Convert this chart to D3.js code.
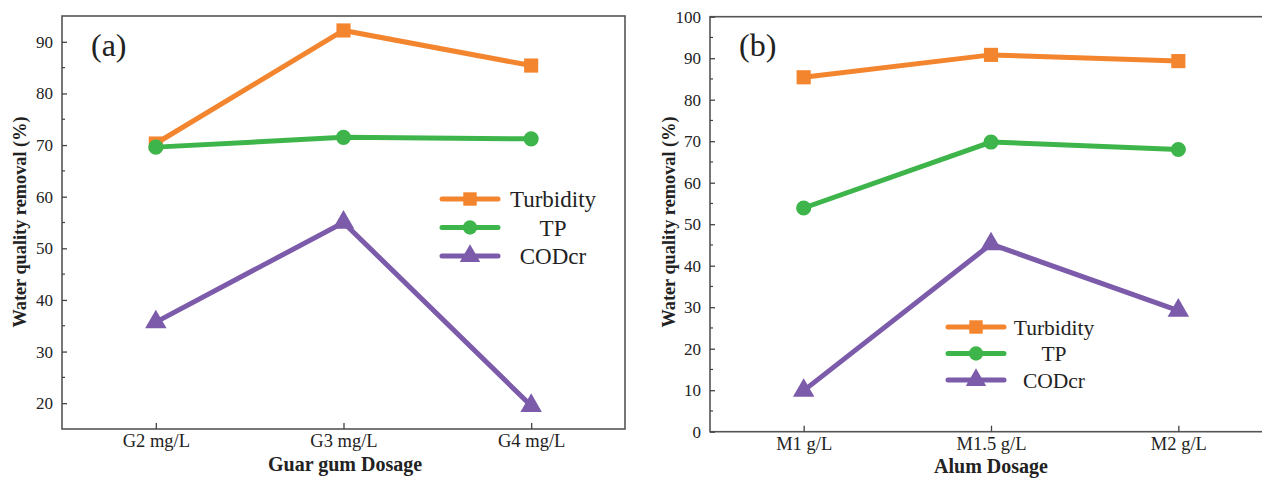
<!DOCTYPE html>
<html><head><meta charset="utf-8">
<script src="https://cdn.jsdelivr.net/npm/d3@7"></script>
<style>body{margin:0;background:#fff}svg{display:block}text{font-family:"Liberation Serif","Times New Roman",serif;fill:#222}</style>
</head><body><svg id="c" width="1262" height="484"></svg>
<script>
const seriesNames = ["Turbidity", "TP", "CODcr"];
const seriesColors = ["#F4852F", "#3DB54B", "#7B5BAA"];
const catsA = ["G2 mg/L", "G3 mg/L", "G4 mg/L"];
const turbA = [70.3, 92.2, 85.4];
const tpA = [69.6, 71.5, 71.2];
const codA = [35.7, 55.0, 19.5];
const catsB = ["M1 g/L", "M1.5 g/L", "M2 g/L"];
const turbB = [85.4, 90.8, 89.3];
const tpB = [53.9, 69.8, 68.0];
const codB = [9.9, 45.2, 29.2];
const ticksA = [20, 30, 40, 50, 60, 70, 80, 90];
const ticksB = [0, 10, 20, 30, 40, 50, 60, 70, 80, 90, 100];

const svg = d3.select("#c");

function panel(o) {
  const g = svg.append("g");
  const x = d3.scalePoint().domain(o.cats).range([o.x0, o.x1]).padding(0.5);
  const y = d3.scaleLinear().domain(o.domain).range([o.y1, o.y0]);
  g.append("rect").attr("x", o.x0).attr("y", o.y0).attr("width", o.x1 - o.x0).attr("height", o.y1 - o.y0)
    .attr("fill", "none").attr("stroke", "#555").attr("stroke-width", 1.6);
  const ya = g.append("g").attr("transform", `translate(${o.x0},0)`)
    .call(d3.axisLeft(y).tickValues(o.ticks).tickSize(-5).tickPadding(9).tickFormat(d3.format("d")));
  ya.select(".domain").remove();
  ya.attr("font-family", null);
  ya.selectAll("line").attr("stroke", "#444").attr("stroke-width", 1.3);
  ya.selectAll("text").style("font-size", "17px").attr("fill", "#333");
  const minor = d3.range(o.domain[0], o.domain[1] + 0.01, 5).filter(v => o.ticks.indexOf(v) < 0 && v > o.domain[0] && v < o.domain[1]);
  g.selectAll(".mn").data(minor).join("line").attr("x1", o.x0).attr("x2", o.x0 + 3)
    .attr("y1", d => y(d)).attr("y2", d => y(d)).attr("stroke", "#444").attr("stroke-width", 1.2);
  const xa = g.append("g").attr("transform", `translate(0,${o.y1})`)
    .call(d3.axisBottom(x).tickSize(-6).tickPadding(5));
  xa.select(".domain").remove();
  xa.attr("font-family", null);
  xa.selectAll("line").attr("stroke", "#444").attr("stroke-width", 1.3);
  xa.selectAll("text").style("font-size", "18.5px").attr("fill", "#333");
  g.append("text").attr("transform", `translate(${o.ytx},${o.yty}) rotate(-90)`).attr("text-anchor", "middle")
    .attr("dy", "0.35em").style("font-size", "18.3px").style("font-weight", "bold").text("Water quality removal (%)");
  g.append("text").attr("x", o.xtx).attr("y", o.xty).attr("text-anchor", "middle")
    .style("font-size", "20px").style("font-weight", "bold").text(o.xtitle);
  g.append("text").attr("x", o.lx).attr("y", o.ly).style("font-size", "32px").text(o.label);
  const data = [o.turb, o.tp, o.cod];
  const line = d3.line().x((d, i) => x(o.cats[i])).y(d => y(d));
  data.forEach((vals, s) => {
    g.append("path").datum(vals).attr("d", line).attr("fill", "none").attr("stroke", seriesColors[s])
      .attr("stroke-width", 5).attr("stroke-linejoin", "miter");
  });
  const shapes = [d3.symbolSquare, d3.symbolCircle, d3.symbolTriangle];
  const sizes = [200, 180, 200];
  data.forEach((vals, s) => {
    g.selectAll(null).data(vals).join("path")
      .attr("transform", (d, i) => `translate(${x(o.cats[i])},${y(d)})`)
      .attr("d", d3.symbol().type(shapes[s]).size(sizes[s])).attr("fill", seriesColors[s]);
  });
  seriesNames.forEach((n, s) => {
    const yy = o.legY + s * o.legDy;
    g.append("line").attr("x1", o.legX).attr("x2", o.legX + 56).attr("y1", yy).attr("y2", yy)
      .attr("stroke", seriesColors[s]).attr("stroke-width", 5).attr("stroke-linecap", "round");
    g.append("path").attr("transform", `translate(${o.legX + 28},${yy})`)
      .attr("d", d3.symbol().type(shapes[s]).size(sizes[s] * 0.9)).attr("fill", seriesColors[s]);
    g.append("text").attr("x", o.legTx).attr("y", yy).attr("dy", "0.35em").attr("text-anchor", "middle")
      .style("font-size", o.legFs + "px").attr("fill", "#111").text(n);
  });
}

panel({cats: catsA, turb: turbA, tp: tpA, cod: codA, domain: [15, 95], ticks: ticksA,
  x0: 62, x1: 625, y0: 16, y1: 429, ytx: 20, yty: 222, xtx: 345, xty: 471, xtitle: "Guar gum Dosage",
  label: "(a)", lx: 91, ly: 56, legX: 442, legY: 199, legDy: 28.5, legTx: 553, legFs: 23});
panel({cats: catsB, turb: turbB, tp: tpB, cod: codB, domain: [0, 100], ticks: ticksB,
  x0: 710, x1: 1272, y0: 16.7, y1: 431.7, ytx: 669, yty: 222, xtx: 991, xty: 473, xtitle: "Alum Dosage",
  label: "(b)", lx: 739, ly: 56, legX: 948, legY: 327, legDy: 26.5, legTx: 1054, legFs: 21.5});
</script></body></html>
